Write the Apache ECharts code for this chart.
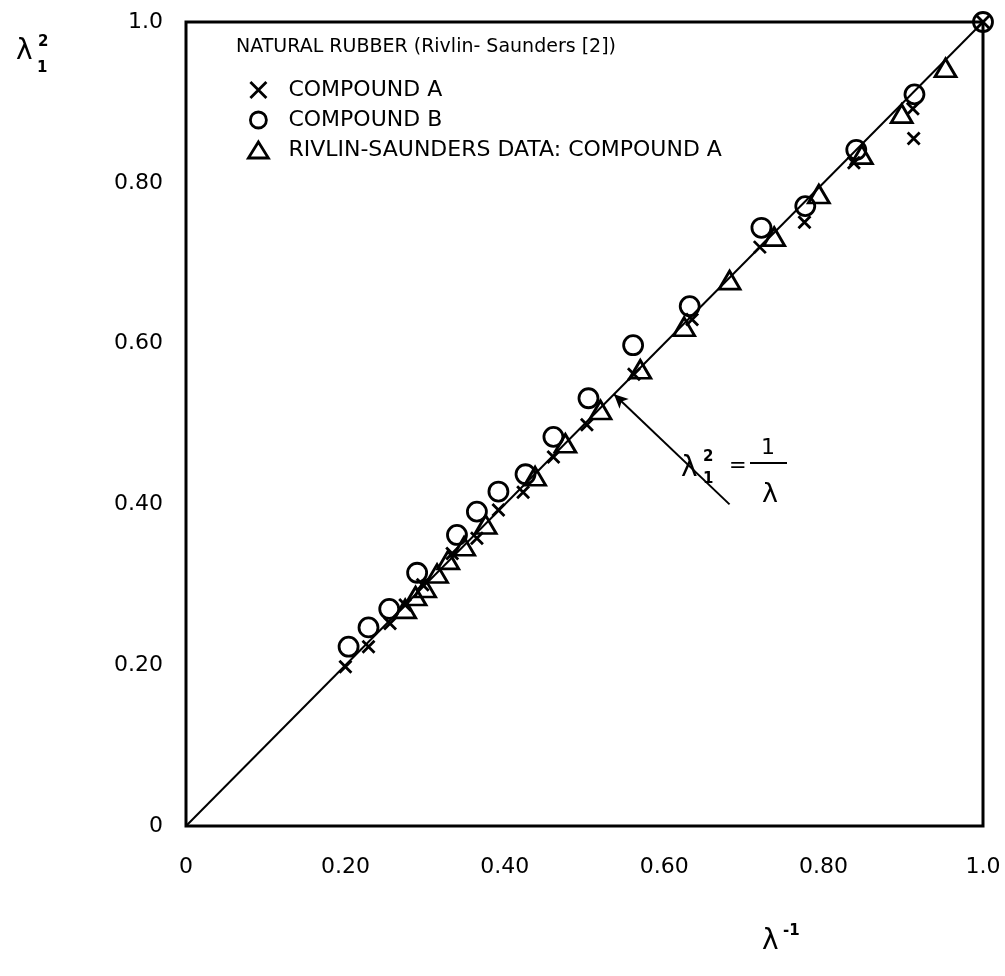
<!DOCTYPE html>
<html>
<head>
<meta charset="utf-8">
<script src="https://cdn.jsdelivr.net/npm/echarts@6/dist/echarts.min.js"></script>
<style>html,body{margin:0;padding:0;background:#fff}#c{width:1005px;height:976px}</style>
</head>
<body>
<div id="c"></div>
<script>
const tickLabels = ['0', '0.20', '0.40', '0.60', '0.80', '1.0'];
const seriesNames = ['COMPOUND A', 'COMPOUND B', 'RIVLIN-SAUNDERS DATA: COMPOUND A'];
const compoundA = [
  [0.200, 0.198], [0.229, 0.223], [0.256, 0.252], [0.275, 0.275], [0.297, 0.300],
  [0.334, 0.339], [0.365, 0.358], [0.392, 0.393], [0.423, 0.415], [0.461, 0.459],
  [0.503, 0.499], [0.562, 0.562], [0.635, 0.630], [0.720, 0.720], [0.776, 0.751],
  [0.838, 0.825], [0.912, 0.892], [0.913, 0.855], [1.0, 1.0]
];
const compoundB = [
  [0.204, 0.223], [0.229, 0.247], [0.255, 0.270], [0.290, 0.315], [0.340, 0.362],
  [0.365, 0.391], [0.392, 0.416], [0.426, 0.4375], [0.461, 0.484], [0.505, 0.532],
  [0.561, 0.598], [0.632, 0.6465], [0.722, 0.744], [0.777, 0.771], [0.841, 0.841],
  [0.914, 0.910], [1.0, 1.0]
];
const rivlinSaunders = [
  [0.275, 0.270], [0.288, 0.286], [0.300, 0.296], [0.315, 0.314], [0.329, 0.331],
  [0.349, 0.348], [0.376, 0.375], [0.438, 0.435], [0.476, 0.476], [0.520, 0.5175],
  [0.570, 0.568], [0.625, 0.621], [0.682, 0.679], [0.738, 0.733], [0.794, 0.786],
  [0.848, 0.835], [0.898, 0.886], [0.953, 0.943]
];
const theoryLine = [[0, 0], [1, 1]];
const arrowFrom = [0.682, 0.400];
const arrowTo = [0.537, 0.537];

const FONT = '"DejaVu Sans", "Liberation Sans", sans-serif';
const crossPath = 'path://M0,0L10,10M10,0L0,10';
const hollow = { color: 'rgba(0,0,0,0)', borderColor: '#000', borderWidth: 2.8, opacity: 1 };
const crossStyle = { color: '#000', borderColor: '#000', borderWidth: 2.8, opacity: 1 };

const chart = echarts.init(document.getElementById('c'), null, { renderer: 'canvas' });
chart.setOption({
  animation: false,
  backgroundColor: '#fff',
  grid: { left: 186, right: 22, top: 22, bottom: 150, show: true, borderColor: '#000', borderWidth: 3, backgroundColor: 'transparent' },
  xAxis: {
    type: 'value', min: 0, max: 1, interval: 0.2,
    axisLine: { show: false }, axisTick: { show: false }, splitLine: { show: false },
    axisLabel: { margin: 30, color: '#000', fontSize: 22, fontFamily: FONT,
      formatter: (v) => tickLabels[Math.round(v / 0.2)] }
  },
  yAxis: {
    type: 'value', min: 0, max: 1, interval: 0.2,
    axisLine: { show: false }, axisTick: { show: false }, splitLine: { show: false },
    axisLabel: { margin: 23, color: '#000', fontSize: 22, fontFamily: FONT,
      formatter: (v) => tickLabels[Math.round(v / 0.2)] }
  },
  legend: {
    left: 242, top: 74, orient: 'vertical', itemGap: 8, itemWidth: 20, itemHeight: 16,
    textStyle: { color: '#000', fontSize: 22, fontFamily: FONT, padding: [0, 0, 0, 15] },
    data: [
      { name: seriesNames[0], icon: crossPath, itemStyle: crossStyle },
      { name: seriesNames[1], icon: 'circle', itemStyle: hollow },
      { name: seriesNames[2], icon: 'triangle', itemStyle: hollow }
    ],
    selectedMode: false
  },
  series: [
    {
      type: 'line', data: theoryLine, showSymbol: false, symbol: 'none', silent: true,
      lineStyle: { color: '#000', width: 2 }, z: 1,
      markLine: {
        silent: true, symbol: ['none', 'arrow'], symbolSize: [10, 14],
        label: { show: false },
        lineStyle: { color: '#000', width: 2, type: 'solid' },
        data: [[{ coord: arrowFrom }, { coord: arrowTo }]]
      }
    },
    {
      name: seriesNames[0], type: 'scatter', data: compoundA, symbol: crossPath, symbolSize: 12,
      itemStyle: crossStyle, z: 3
    },
    {
      name: seriesNames[1], type: 'scatter', data: compoundB, symbol: 'circle', symbolSize: 19,
      itemStyle: hollow, z: 3
    },
    {
      name: seriesNames[2], type: 'scatter', data: rivlinSaunders, symbol: 'triangle', symbolSize: [21, 18],
      itemStyle: hollow, z: 3
    }
  ],
  graphic: [
    { type: 'text', left: 236, top: 38, style: { text: 'NATURAL RUBBER (Rivlin- Saunders [2])', font: '19px ' + FONT, fill: '#000' } },
    // y-axis name
    { type: 'text', left: 16, top: 38, style: { text: 'λ', font: '28px ' + FONT, fill: '#000' } },
    { type: 'text', left: 38, top: 35, style: { text: '2', font: 'bold 15px ' + FONT, fill: '#000' } },
    { type: 'text', left: 37, top: 61, style: { text: '1', font: 'bold 15px ' + FONT, fill: '#000' } },
    // x-axis name
    { type: 'text', left: 762, top: 928, style: { text: 'λ', font: '28px ' + FONT, fill: '#000' } },
    { type: 'text', left: 783, top: 924, style: { text: '-1', font: 'bold 15px ' + FONT, fill: '#000' } },
    // equation annotation
    { type: 'text', left: 681, top: 455, style: { text: 'λ', font: '28px ' + FONT, fill: '#000' } },
    { type: 'text', left: 703, top: 450, style: { text: '2', font: 'bold 15px ' + FONT, fill: '#000' } },
    { type: 'text', left: 703, top: 472, style: { text: '1', font: 'bold 15px ' + FONT, fill: '#000' } },
    { type: 'text', left: 729, top: 456, style: { text: '=', font: '21px ' + FONT, fill: '#000' } },
    { type: 'text', left: 761, top: 437, style: { text: '1', font: '22px ' + FONT, fill: '#000' } },
    { type: 'line', shape: { x1: 750, y1: 463, x2: 787, y2: 463 }, style: { stroke: '#000', lineWidth: 2 } },
    { type: 'text', left: 762, top: 481, style: { text: 'λ', font: '27px ' + FONT, fill: '#000' } }
  ]
});
</script>
</body>
</html>
